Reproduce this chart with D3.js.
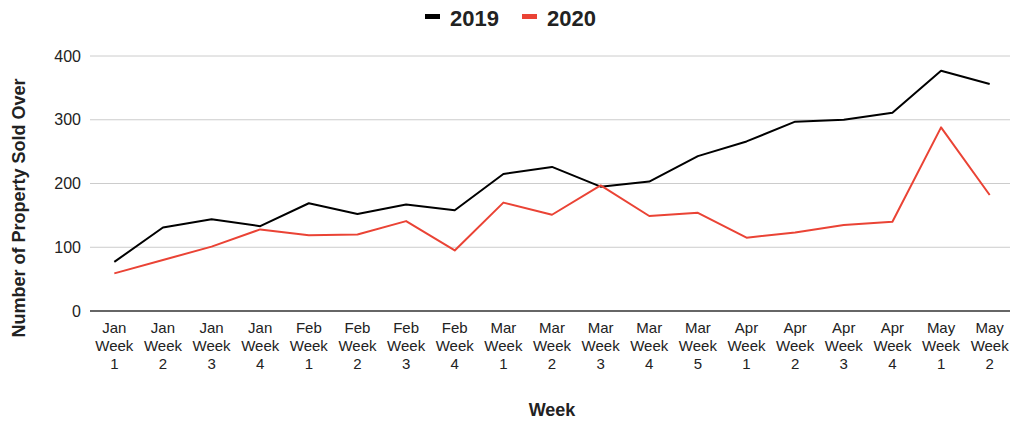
<!DOCTYPE html>
<html>
<head>
<meta charset="utf-8">
<script src="https://cdn.jsdelivr.net/npm/d3@7"></script>
<style>
  body { margin: 0; background: #fff; }
  svg { display: block; font-family: 'Liberation Sans', Arial, sans-serif; }
</style>
</head>
<body>
<div id="chart"></div>
<script>
'use strict';

const months = ['Jan', 'Jan', 'Jan', 'Jan', 'Feb', 'Feb', 'Feb', 'Feb', 'Mar', 'Mar', 'Mar', 'Mar', 'Mar', 'Apr', 'Apr', 'Apr', 'Apr', 'May', 'May'];
const weekNums = ['1', '2', '3', '4', '1', '2', '3', '4', '1', '2', '3', '4', '5', '1', '2', '3', '4', '1', '2'];
const series2019 = [77, 131, 144, 133, 169, 152, 167, 158, 215, 226, 195, 203, 243, 266, 297, 300, 311, 377, 356];
const series2020 = [59, 80, 101, 128, 119, 120, 141, 95, 170, 151, 197, 149, 154, 115, 123, 135, 140, 288, 182];
const yTicks = [0, 100, 200, 300, 400];
const seriesNames = ['2019', '2020'];
const seriesColors = ['#000000', '#ea4335'];

const width = 1010;
const height = 421;
const margin = { top: 56, right: -4, bottom: 110, left: 90 };

const categories = months.map((m, i) => i);

const svg = d3.select('#chart')
  .append('svg')
  .attr('width', width)
  .attr('height', height);

const x = d3.scalePoint()
  .domain(categories)
  .range([margin.left, width - margin.right])
  .padding(0.5);

const y = d3.scaleLinear()
  .domain([0, 400])
  .range([height - margin.bottom, margin.top]);

// gridlines
svg.append('g')
  .selectAll('line')
  .data(yTicks.filter((d) => d !== 0))
  .join('line')
  .attr('x1', margin.left)
  .attr('x2', width - margin.right)
  .attr('y1', (d) => y(d))
  .attr('y2', (d) => y(d))
  .attr('stroke', '#cccccc')
  .attr('stroke-width', 1);

// y tick labels
svg.append('g')
  .selectAll('text')
  .data(yTicks)
  .join('text')
  .attr('x', margin.left - 9)
  .attr('y', (d) => y(d) + 5.5)
  .attr('text-anchor', 'end')
  .attr('font-size', '16px')
  .attr('fill', '#222')
  .text((d) => d);

// lines
const line = d3.line()
  .x((d, i) => x(i))
  .y((d) => y(d));

[series2019, series2020].forEach((s, k) => {
  svg.append('path')
    .datum(s)
    .attr('fill', 'none')
    .attr('stroke', seriesColors[k])
    .attr('stroke-width', 2)
    .attr('stroke-linejoin', 'round')
    .attr('d', line);
});

// baseline
svg.append('line')
  .attr('x1', margin.left)
  .attr('x2', width - margin.right)
  .attr('y1', y(0))
  .attr('y2', y(0))
  .attr('stroke', '#333')
  .attr('stroke-width', 1.5);

// x labels
const xl = svg.append('g')
  .selectAll('text')
  .data(categories)
  .join('text')
  .attr('text-anchor', 'middle')
  .attr('font-size', '15px')
  .attr('fill', '#222');

xl.append('tspan')
  .attr('x', (d) => x(d))
  .attr('y', 333)
  .text((d) => months[d]);
xl.append('tspan')
  .attr('x', (d) => x(d))
  .attr('y', 351)
  .text('Week');
xl.append('tspan')
  .attr('x', (d) => x(d))
  .attr('y', 368.5)
  .text((d) => weekNums[d]);

// axis titles
svg.append('text')
  .attr('x', (margin.left + width - margin.right) / 2)
  .attr('y', 416)
  .attr('text-anchor', 'middle')
  .attr('font-size', '18px')
  .attr('font-weight', 'bold')
  .attr('fill', '#222')
  .text('Week');

svg.append('text')
  .attr('transform', 'translate(25, 208) rotate(-90)')
  .attr('text-anchor', 'middle')
  .attr('font-size', '18px')
  .attr('font-weight', 'bold')
  .attr('fill', '#222')
  .text('Number of Property Sold Over');

// legend
const legendX = [425, 522];
const legend = svg.append('g')
  .selectAll('g')
  .data(seriesNames)
  .join('g')
  .attr('transform', (d, i) => `translate(${legendX[i]}, 0)`);

legend.append('rect')
  .attr('y', 14)
  .attr('width', 15)
  .attr('height', 5)
  .attr('fill', (d, i) => seriesColors[i]);

legend.append('text')
  .attr('x', 25)
  .attr('y', 26)
  .attr('font-size', '22px')
  .attr('font-weight', 'bold')
  .attr('fill', '#222')
  .text((d) => d);
</script>
</body>
</html>
